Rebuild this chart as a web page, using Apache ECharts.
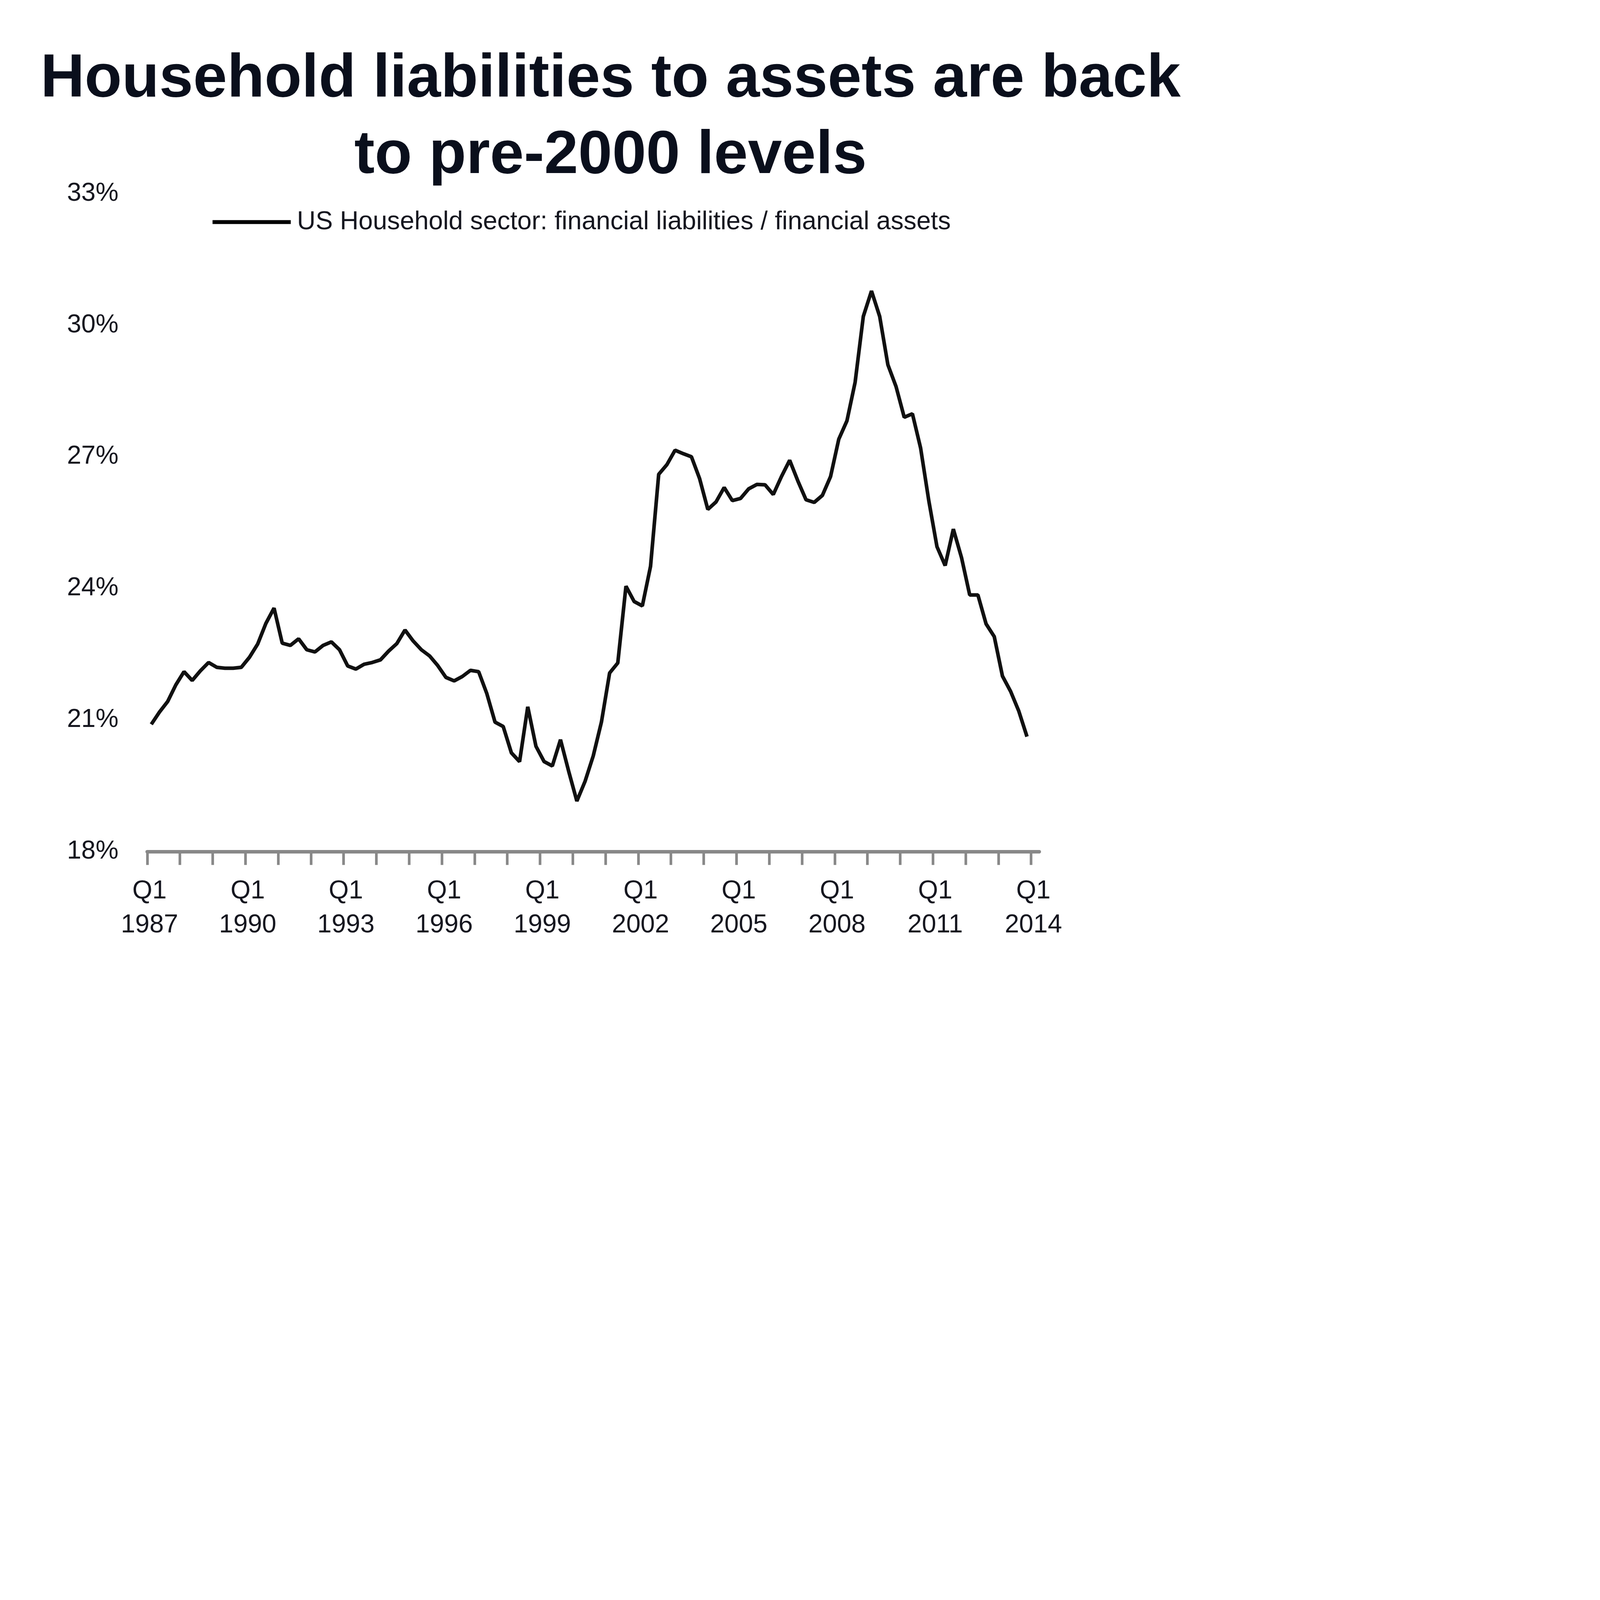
<!DOCTYPE html>
<html>
<head>
<meta charset="utf-8">
<script src="https://cdn.jsdelivr.net/npm/echarts@6/dist/echarts.min.js"></script>
<style>
html,body{margin:0;padding:0;background:#ffffff;overflow:hidden;}
#chart{width:100vw;height:100vh;}
</style>
</head>
<body>
<div id="chart"></div>
<script>
// ---- data ----
var titleLines = ['Household liabilities to assets are back', 'to pre-2000 levels'];
var seriesName = 'US Household sector: financial liabilities / financial assets';
var years = [1987,1988,1989,1990,1991,1992,1993,1994,1995,1996,1997,1998,1999,2000,2001,2002,2003,2004,2005,2006,2007,2008,2009,2010,2011,2012,2013,2014];
var quarters = ['Q1','Q2','Q3','Q4'];
var lastCategory = '2014Q2';
// quarterly ratio, %, 1987Q1 .. 2013Q4
var ratio = [
  20.9, 21.18, 21.42, 21.8,
  22.1, 21.9, 22.12, 22.31,
  22.2, 22.18, 22.18, 22.2,
  22.43, 22.73, 23.2, 23.55,
  22.75, 22.7, 22.85, 22.6,
  22.55, 22.7, 22.78, 22.6,
  22.23, 22.16, 22.27, 22.31,
  22.37, 22.57, 22.74, 23.05,
  22.8, 22.6, 22.46, 22.24,
  21.97, 21.89, 21.99, 22.13,
  22.1, 21.6, 20.95, 20.85,
  20.25, 20.05, 21.3, 20.4,
  20.05, 19.95, 20.55, 19.83,
  19.15, 19.6, 20.18, 20.95,
  22.07, 22.3, 24.05, 23.7,
  23.6, 24.5, 26.6, 26.82,
  27.15, 27.07, 27.0, 26.5,
  25.8, 25.97, 26.3, 26.0,
  26.05, 26.27, 26.37, 26.36,
  26.14, 26.55, 26.92, 26.45,
  26.02, 25.96, 26.12, 26.55,
  27.4, 27.82, 28.7, 30.2,
  30.78, 30.2, 29.1, 28.6,
  27.9, 27.98, 27.2, 26.0,
  24.95, 24.52, 25.35, 24.7,
  23.85, 23.85, 23.19, 22.9,
  22.0, 21.65, 21.2, 20.62
];
var yMin = 18, yMax = 33, yStep = 3;

// ---- categories: each quarter has a start slot and a mid slot (values sit mid-quarter) ----
var categories = [];
(function(){
  var done = false;
  years.forEach(function(y){
    quarters.forEach(function(q){
      if (done) return;
      var c = y + q;
      categories.push(c);
      if (c === lastCategory) { done = true; return; }
      categories.push(c + '-mid');
    });
  });
})();
var seriesData = ratio.map(function(v, i){ return [2 * i + 1, v]; });

// ---- layout designed on a 4848 x 5000 frame, mapped onto the real viewport ----
var VW = window.innerWidth || document.documentElement.clientWidth || 4848;
var VH = window.innerHeight || document.documentElement.clientHeight || 5000;
var SX = VW / 4848, SY = VH / 5000, SF = SX;
function sx(v){ return v * SX; }
function sy(v){ return v * SY; }
function sf(v){ return v * SF; }

var labelFont = 'Liberation Sans';
var labelSize = 78;
var textColor = '#15161f';
var titleColor = '#0a0f1c';
var titleFont = 'bold ' + sf(185) + 'px "Liberation Sans", Arial, sans-serif';

var chart = echarts.init(document.getElementById('chart'), null, {renderer:'canvas'});

chart.setOption({
  backgroundColor: '#ffffff',
  animation: false,
  graphic: [
    {type:'text', x:sx(1850), y:sy(249), style:{text:titleLines[0], fill:titleColor, font:titleFont, textAlign:'center', textVerticalAlign:'middle'}},
    {type:'text', x:sx(1850), y:sy(488), style:{text:titleLines[1], fill:titleColor, font:titleFont, textAlign:'center', textVerticalAlign:'middle'}}
  ],
  legend: {
    left: sx(644),
    top: sy(644),
    padding: 0,
    icon: 'rect',
    itemWidth: sx(237),
    itemHeight: sy(12),
    itemStyle: {color:'#000000'},
    textStyle: {fontFamily: labelFont, fontSize: sf(labelSize), color: textColor, lineHeight: sy(100), padding:[0,0,0,sx(13)]},
    data: [seriesName]
  },
  grid: {left: sx(446), right: sx(4848 - 3149), top: sy(605), bottom: sy(5000 - 2661), containLabel: false},
  xAxis: {
    type: 'category',
    boundaryGap: false,
    data: categories,
    axisLine: {show:true, lineStyle:{color:'#888888', width:sy(11)}},
    axisTick: {show:true, length:sy(42), lineStyle:{color:'#888888', width:sx(8)}, interval: function(i){ return i % 8 === 0; }},
    axisLabel: {
      interval: function(i){ return i % 24 === 0; },
      formatter: function(v){ return v.slice(4, 6) + '\n' + v.slice(0, 4); },
      fontFamily: labelFont, fontSize: sf(labelSize), lineHeight: sy(106), color: textColor, margin: sy(72),
      padding: [0, 0, 0, sx(14)]
    },
    splitLine: {show:false}
  },
  yAxis: {
    type: 'value',
    min: yMin, max: yMax, interval: yStep,
    axisLine: {show:false},
    axisTick: {show:false},
    splitLine: {show:false},
    axisLabel: {formatter:'{value}%', fontFamily: labelFont, fontSize: sf(labelSize), color: textColor, margin: sx(87)}
  },
  series: [{
    name: seriesName,
    type: 'line',
    data: seriesData,
    symbol: 'none',
    smooth: false,
    lineStyle: {color:'#111111', width:sf(11)},
    itemStyle: {color:'#000000'}
  }]
});
</script>
</body>
</html>
